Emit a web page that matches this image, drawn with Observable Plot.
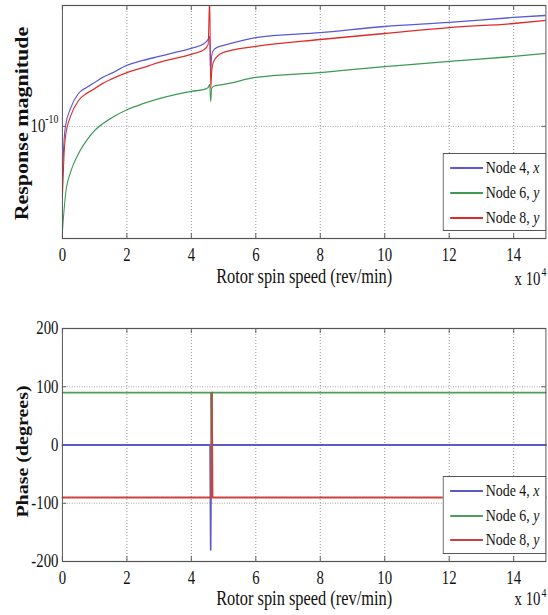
<!DOCTYPE html>
<html><head><meta charset="utf-8">
<script src="https://cdn.jsdelivr.net/npm/d3@7"></script>
<script src="https://cdn.jsdelivr.net/npm/@observablehq/plot@0.6"></script>
<style>
html,body{margin:0;padding:0;background:#fff;overflow:hidden;}
#wrap{position:relative;width:668px;transform:scaleX(0.82);transform-origin:0 0;font-family:"Liberation Serif",serif;}
.panel{position:relative;}
.panel svg{display:block;}
.legend{position:absolute;background:#fff;border:1px solid #555;box-sizing:border-box;font-size:17px;color:#111;}
.legend .sw{position:absolute;left:8px;width:40px;}
.legend .lb{position:absolute;left:51px;line-height:1;transform:translateY(-55%);white-space:nowrap;}
</style>
</head><body>
<div id="wrap"><div class="panel" id="p1"></div><div class="panel" id="p2"></div></div>
<script>
// ---- data ----
const xTicks = [0, 2, 4, 6, 8, 10, 12, 14];
const seriesNames = ["Node 4, x", "Node 6, y", "Node 8, y"];
const seriesColorsTop = ["#5858d8", "#3c9a52", "#e02a2a"];
const seriesColorsBottom = ["#5a5ac8", "#4f9e5c", "#cc4040"];

// rotor spin speed (x 10^4 rev/min) for the magnitude curves
const speed = [0, 0.02, 0.05, 0.1, 0.25, 0.5, 0.75, 1, 1.25, 1.5, 2, 2.5, 3, 3.5, 4, 4.4, 4.52, 4.57, 4.6, 4.63, 4.68, 4.8, 5, 6, 8, 10, 12, 14, 15];
const magNode4x = [4.04e-11, 5.32e-11, 7.70e-11, 1.02e-10, 1.39e-10, 1.84e-10, 2.05e-10, 2.25e-10, 2.47e-10, 2.65e-10, 3.08e-10, 3.38e-10, 3.64e-10, 3.92e-10, 4.22e-10, 4.62e-10, 4.98e-10, 5.26e-10, 2.56e-10, 3.70e-10, 4.06e-10, 4.30e-10, 4.46e-10, 5.16e-10, 5.66e-10, 6.33e-10, 6.82e-10, 7.48e-10, 7.76e-10];
const magNode6y = [1.41e-11, 1.69e-11, 2.11e-11, 2.89e-11, 4.26e-11, 6.05e-11, 7.70e-11, 9.27e-11, 1.05e-10, 1.16e-10, 1.36e-10, 1.52e-10, 1.67e-10, 1.80e-10, 1.91e-10, 1.98e-10, 2.05e-10, 2.17e-10, 1.58e-10, 2.01e-10, 2.09e-10, 2.13e-10, 2.17e-10, 2.47e-10, 2.70e-10, 3.02e-10, 3.32e-10, 3.64e-10, 3.85e-10];
const magNode8y = [2.69e-11, 3.68e-11, 5.83e-11, 8.45e-11, 1.20e-10, 1.61e-10, 1.84e-10, 2.01e-10, 2.21e-10, 2.38e-10, 2.70e-10, 2.96e-10, 3.26e-10, 3.51e-10, 3.78e-10, 4.14e-10, 4.54e-10, 1.1e-9, 2.01e-10, 2.70e-10, 3.26e-10, 3.64e-10, 3.92e-10, 4.38e-10, 4.98e-10, 5.56e-10, 6.21e-10, 6.69e-10, 7.08e-10];
const magTicks = [1e-10];

// phase curves
const phaseSpeed = [0, 4.58, 4.6, 4.62, 4.64, 4.66, 15];
const phaseNode4x = [0, 0, -180, 0, 0, 0, 0];
const phaseNode6y = [90, 90, 90, -90, 90, 90, 90];
const phaseNode8y = [-90, -90, -90, -90, 90, -90, -90];
const phaseTicks = [-200, -100, 0, 100, 200];

(function () {
// ---- layout ----
const S = 0.82, W = 668;
const ML = 62 / S, MR = W - 545.5 / S;
const font = "Liberation Serif";
const frameColor = "#555";
const gridStyle = {stroke: "#8a8a8a", strokeOpacity: 1, strokeDasharray: "1,2", strokeWidth: 1};

function rows(xs, ys) { return xs.map((x, i) => ({x, y: ys[i]})); }

function commonMarks(plotH, o) {
  return [
    Plot.tickX(xTicks, {insetBottom: plotH - 5, stroke: frameColor}),
    Plot.tickX(xTicks, {insetTop: plotH - 5, stroke: frameColor}),
    Plot.axisX({ticks: xTicks, tickSize: 0, tickPadding: 10, fontSize: 18, label: null, tickFormat: d => String(d)}),
    Plot.text(["Rotor spin speed (rev/min)"], {text: d => d, frameAnchor: "bottom", textAnchor: "middle", lineAnchor: "middle", dy: o.xlabelDy, fontSize: 20, fill: "#111"}),
    Plot.text(["x 10"], {text: d => d, frameAnchor: "bottom-right", textAnchor: "end", lineAnchor: "middle", dx: -6.7, dy: o.xtenDy, fontSize: 18, fill: "#111"}),
    Plot.text(["4"], {text: d => d, frameAnchor: "bottom-right", textAnchor: "start", lineAnchor: "middle", dx: -5.5, dy: o.xsupDy, fontSize: 12, fill: "#111"}),
    Plot.text([o.ylabel], {text: d => d, frameAnchor: "left", textAnchor: "middle", lineAnchor: "middle", rotate: -90, dx: -(62 - 22) / S, dy: o.ylabelDy, fontSize: o.ylabelFont, fontWeight: "bold", fill: "#111"})
  ];
}

// ---- top: magnitude ----
const topH = 300, topMT = 5, topMB = 62;
const plotW = W - ML - MR, topPH = topH - topMT - topMB;
const magChart = Plot.plot({
  width: W, height: topH, marginLeft: ML, marginRight: MR, marginTop: topMT, marginBottom: topMB,
  style: {fontFamily: font, fontSize: "18px", color: "#111", background: "transparent", overflow: "visible"},
  x: {domain: [0, 15]},
  y: {type: "log", domain: [1.26e-11, 9.33e-10]},
  marks: [
    Plot.gridX(xTicks.slice(1), gridStyle),
    Plot.gridY(magTicks, gridStyle),
    Plot.tickY(magTicks, {insetRight: plotW - 5, stroke: frameColor}),
    Plot.tickY(magTicks, {insetLeft: plotW - 5, stroke: frameColor}),
    Plot.axisY({ticks: magTicks, tickSize: 0, tickPadding: 4.9, fontSize: 18, label: null, tickFormat: () => "10"}),
    Plot.line(rows(speed, magNode4x), {x: "x", y: "y", stroke: seriesColorsTop[0], strokeWidth: 1.3, curve: "monotone-x", clip: true}),
    Plot.line(rows(speed, magNode6y), {x: "x", y: "y", stroke: seriesColorsTop[1], strokeWidth: 1.3, curve: "monotone-x", clip: true}),
    Plot.line(rows(speed, magNode8y), {x: "x", y: "y", stroke: seriesColorsTop[2], strokeWidth: 1.3, curve: "monotone-x", clip: true}),
    ...commonMarks(topPH, {xlabelDy: 37.6, xtenDy: 41.2, xsupDy: 34, ylabel: "Response magnitude", ylabelFont: 22, ylabelDy: 1.5}),
    Plot.frame({stroke: frameColor, strokeWidth: 1.2})
  ]
});
document.getElementById("p1").append(magChart);
magChart.querySelectorAll('[aria-label="y-axis tick label"] text').forEach(t => {
  t.textContent = "";
  const a = document.createElementNS("http://www.w3.org/2000/svg", "tspan");
  a.textContent = "10";
  const b = document.createElementNS("http://www.w3.org/2000/svg", "tspan");
  b.setAttribute("dy", "-9"); b.setAttribute("font-size", "12");
  b.textContent = "-10";
  t.append(a, b);
});

// ---- bottom: phase ----
const botH = 315, botMT = 28, botMB = 54;
const botPH = botH - botMT - botMB;
const phaseChart = Plot.plot({
  width: W, height: botH, marginLeft: ML, marginRight: MR, marginTop: botMT, marginBottom: botMB,
  style: {fontFamily: font, fontSize: "18px", color: "#111", background: "transparent", overflow: "visible"},
  x: {domain: [0, 15]},
  y: {domain: [-200, 200]},
  marks: [
    Plot.gridX(xTicks.slice(1), gridStyle),
    Plot.gridY(phaseTicks.slice(1, -1), gridStyle),
    Plot.tickY(phaseTicks, {insetRight: plotW - 5, stroke: frameColor}),
    Plot.tickY(phaseTicks, {insetLeft: plotW - 5, stroke: frameColor}),
    Plot.axisY({ticks: phaseTicks, tickSize: 0, tickPadding: 4.9, fontSize: 18, label: null, tickFormat: d => String(d)}),
    Plot.line(rows(phaseSpeed, phaseNode4x), {x: "x", y: "y", stroke: seriesColorsBottom[0], strokeWidth: 2}),
    Plot.line(rows(phaseSpeed, phaseNode6y), {x: "x", y: "y", stroke: seriesColorsBottom[1], strokeWidth: 1.6}),
    Plot.line(rows(phaseSpeed, phaseNode8y), {x: "x", y: "y", stroke: seriesColorsBottom[2], strokeWidth: 2}),
    ...commonMarks(botPH, {xlabelDy: 37, xtenDy: 38.2, xsupDy: 32, ylabel: "Phase (degrees)", ylabelFont: 20, ylabelDy: 6.5}),
    Plot.frame({stroke: frameColor, strokeWidth: 1.2})
  ]
});
document.getElementById("p2").append(phaseChart);

// ---- legends ----
function legend(panelId, boxTop, rowsY, colors, lw) {
  const box = document.createElement("div");
  box.className = "legend";
  box.style.left = (443 / S) + "px";
  box.style.top = boxTop + "px";
  box.style.width = (103 / S) + "px";
  box.style.height = "78px";
  seriesNames.forEach((name, i) => {
    const sw = document.createElement("div");
    sw.className = "sw";
    sw.style.top = (rowsY[i] - lw / 2) + "px";
    sw.style.height = lw + "px";
    sw.style.background = colors[i];
    const lb = document.createElement("div");
    lb.className = "lb";
    lb.style.top = rowsY[i] + "px";
    const parts = name.split(", ");
    lb.innerHTML = parts[0] + ", <i>" + parts[1] + "</i>";
    box.append(sw, lb);
  });
  document.getElementById(panelId).append(box);
}
legend("p1", 153, [14, 39, 64], seriesColorsTop, 1.5);
legend("p2", 176, [14, 39, 63], seriesColorsBottom, 2);
})();
</script>
</body></html>
